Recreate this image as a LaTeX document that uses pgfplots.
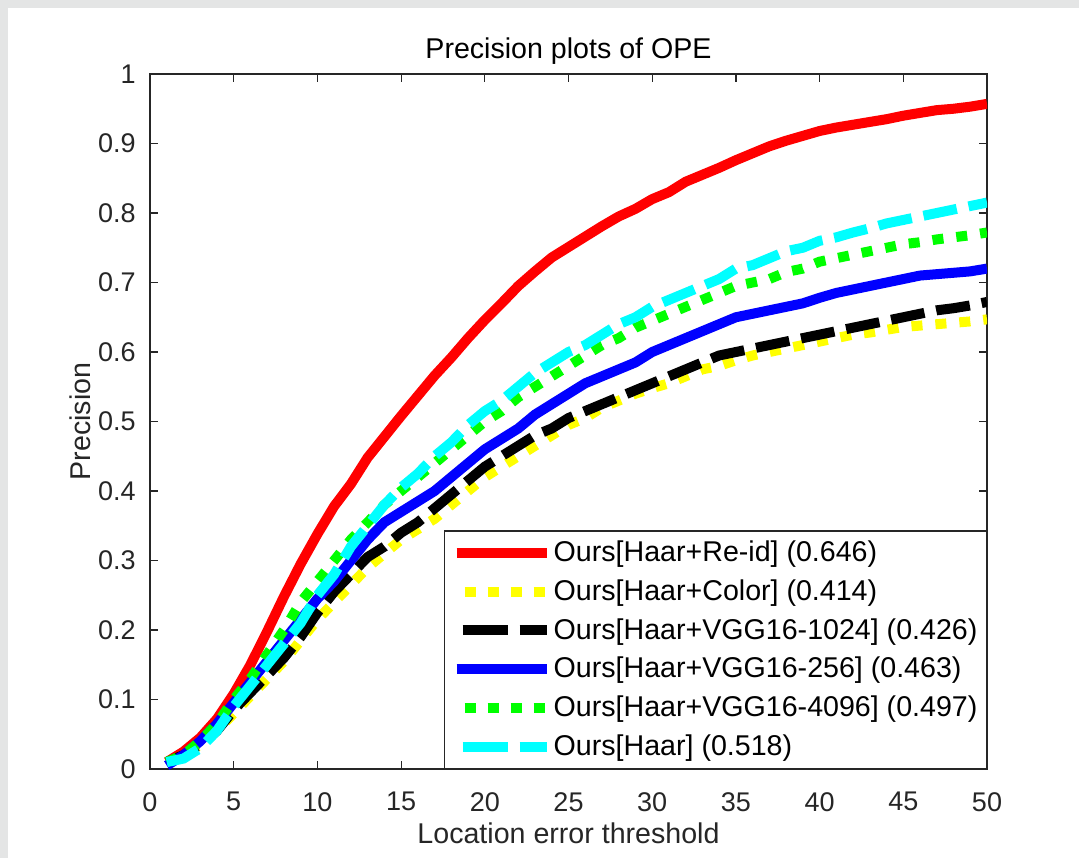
\documentclass[border=0pt]{standalone}
\usepackage{pgfplots}
\pgfplotsset{compat=1.18}
\usepackage{pgfplotstable}
\usepackage{fontspec}
\setmainfont{Liberation Sans}
\definecolor{txt}{HTML}{262626}
\definecolor{frame}{HTML}{E4E5E5}
\definecolor{cR}{rgb}{1,0,0}
\definecolor{cY}{rgb}{1,1,0}
\definecolor{cK}{rgb}{0,0,0}
\definecolor{cB}{rgb}{0,0,1}
\definecolor{cG}{rgb}{0,1,0}
\definecolor{cC}{rgb}{0,1,1}
\pgfplotsset{
  dotleg/.style={legend image code/.code={\draw[##1, dash pattern=on 5.5pt off 6pt, dash phase=-4pt] (0pt,0pt) -- (45pt,0pt);}},
  dashleg/.style={legend image code/.code={\draw[##1, dash pattern=on 22.5pt off 6pt, dash phase=-3pt] (0pt,0pt) -- (45pt,0pt);}},
}
\pgfplotstableread{
x red yellow black blue green cyan
1 0.010 0.010 0.010 0.005 0.010 0.010
2 0.025 0.020 0.020 0.020 0.020 0.015
3 0.045 0.035 0.035 0.040 0.040 0.030
4 0.072 0.055 0.055 0.065 0.065 0.055
5 0.108 0.080 0.085 0.095 0.100 0.090
6 0.150 0.105 0.110 0.125 0.130 0.120
7 0.198 0.130 0.135 0.155 0.165 0.150
8 0.248 0.155 0.160 0.185 0.200 0.180
9 0.295 0.185 0.190 0.215 0.240 0.210
10 0.338 0.215 0.225 0.245 0.270 0.250
11 0.378 0.240 0.255 0.270 0.300 0.280
12 0.410 0.265 0.280 0.300 0.330 0.320
13 0.448 0.290 0.305 0.330 0.355 0.350
14 0.478 0.310 0.320 0.355 0.380 0.380
15 0.508 0.330 0.340 0.370 0.400 0.405
16 0.537 0.345 0.355 0.385 0.420 0.425
17 0.566 0.360 0.375 0.400 0.440 0.450
18 0.592 0.380 0.395 0.420 0.460 0.470
19 0.620 0.400 0.415 0.440 0.480 0.495
20 0.646 0.420 0.435 0.460 0.500 0.515
21 0.670 0.435 0.450 0.475 0.515 0.530
22 0.695 0.450 0.465 0.490 0.535 0.550
23 0.716 0.465 0.480 0.510 0.550 0.570
24 0.736 0.480 0.490 0.525 0.565 0.585
25 0.751 0.495 0.505 0.540 0.580 0.600
26 0.766 0.505 0.515 0.555 0.595 0.610
27 0.781 0.520 0.525 0.565 0.610 0.625
28 0.795 0.530 0.535 0.575 0.620 0.640
29 0.806 0.540 0.545 0.585 0.635 0.650
30 0.820 0.548 0.555 0.600 0.645 0.665
31 0.830 0.555 0.565 0.610 0.655 0.675
32 0.845 0.565 0.575 0.620 0.665 0.685
33 0.855 0.575 0.585 0.630 0.675 0.695
34 0.865 0.580 0.595 0.640 0.685 0.705
35 0.876 0.588 0.600 0.650 0.695 0.720
36 0.886 0.595 0.605 0.655 0.700 0.725
37 0.896 0.600 0.610 0.660 0.705 0.735
38 0.904 0.605 0.615 0.665 0.715 0.745
39 0.911 0.610 0.620 0.670 0.720 0.750
40 0.918 0.615 0.625 0.678 0.730 0.760
41 0.923 0.620 0.630 0.685 0.735 0.765
42 0.927 0.625 0.635 0.690 0.740 0.772
43 0.931 0.628 0.640 0.695 0.745 0.778
44 0.935 0.632 0.645 0.700 0.750 0.785
45 0.940 0.636 0.650 0.705 0.755 0.790
46 0.944 0.638 0.655 0.710 0.758 0.795
47 0.948 0.640 0.660 0.712 0.762 0.800
48 0.950 0.642 0.663 0.714 0.765 0.805
49 0.953 0.644 0.667 0.716 0.768 0.810
50 0.957 0.647 0.672 0.720 0.772 0.815
}\data
\begin{document}
\begin{tikzpicture}
\path[use as bounding box] (0,0) rectangle (539.5pt,429pt);
\fill[frame] (0,0) rectangle (539.5pt,429pt);
\fill[white] (4pt,0) rectangle (539.5pt,425pt);
\begin{axis}[
  at={(75pt,44.5pt)}, anchor=south west,
  scale only axis, width=418.5pt, height=347.5pt,
  xmin=0, xmax=50, ymin=0, ymax=1,
  xtick={0,5,...,50}, ytick={0,0.1,...,1},
  yticklabels={0,0.1,0.2,0.3,0.4,0.5,0.6,0.7,0.8,0.9,1},
  /pgf/number format/assume math mode=true,
  tick align=inside, tick pos=both,
  major tick length=4pt,
  axis line style={txt, line width=0.6pt},
  every tick/.style={txt, line width=0.6pt},
  tick label style={font=\fontsize{13.5}{15}\selectfont, text=txt},
  yticklabel style={inner sep=0pt, xshift=-7pt},
  xticklabel style={inner sep=0pt, yshift=-11.5pt},
  title={Precision plots of OPE},
  title style={font=\fontsize{14.3}{16}\selectfont, text=black, at={(axis description cs:0.5,1)}, anchor=south, inner sep=0pt, yshift=-1.5pt},
  xlabel={Location error threshold},
  ylabel={Precision},
  label style={font=\fontsize{14.3}{16}\selectfont, text=txt},
  xlabel style={at={(axis description cs:0.5,-0.092)}, anchor=center, inner sep=0pt},
  ylabel style={at={(axis description cs:-0.0836,0.5)}, anchor=center, inner sep=0pt},
  legend cell align=left,
  legend style={at={(axis description cs:1,0)}, anchor=south east, draw=txt, line width=0.6pt,
    font=\fontsize{14.3}{16}\selectfont, inner xsep=3.5pt, inner ysep=4pt, row sep=5.5pt,
    nodes={inner sep=1pt, text=black}},
  legend image code/.code={\draw[#1] (0pt,0pt) -- (45pt,0pt);},
  line cap=butt,
]
\addplot[cR, line width=5pt, line join=round] table[x=x, y=red] {\data};
\addlegendentry{Ours[Haar+Re-id] (0.646)}
\addplot[cY, line width=5pt, dash pattern=on 5.5pt off 6.5pt, dotleg] table[x=x, y=yellow] {\data};
\addlegendentry{Ours[Haar+Color] (0.414)}
\addplot[cK, line width=5pt, dash pattern=on 17pt off 6pt, dashleg] table[x=x, y=black] {\data};
\addlegendentry{Ours[Haar+VGG16-1024] (0.426)}
\addplot[cB, line width=5pt, line join=round] table[x=x, y=blue] {\data};
\addlegendentry{Ours[Haar+VGG16-256] (0.463)}
\addplot[cG, line width=5pt, dash pattern=on 5.5pt off 6.5pt, dotleg] table[x=x, y=green] {\data};
\addlegendentry{Ours[Haar+VGG16-4096] (0.497)}
\addplot[cC, line width=5pt, dash pattern=on 17pt off 6pt, dashleg] table[x=x, y=cyan] {\data};
\addlegendentry{Ours[Haar] (0.518)}
\end{axis}
\end{tikzpicture}
\end{document}
